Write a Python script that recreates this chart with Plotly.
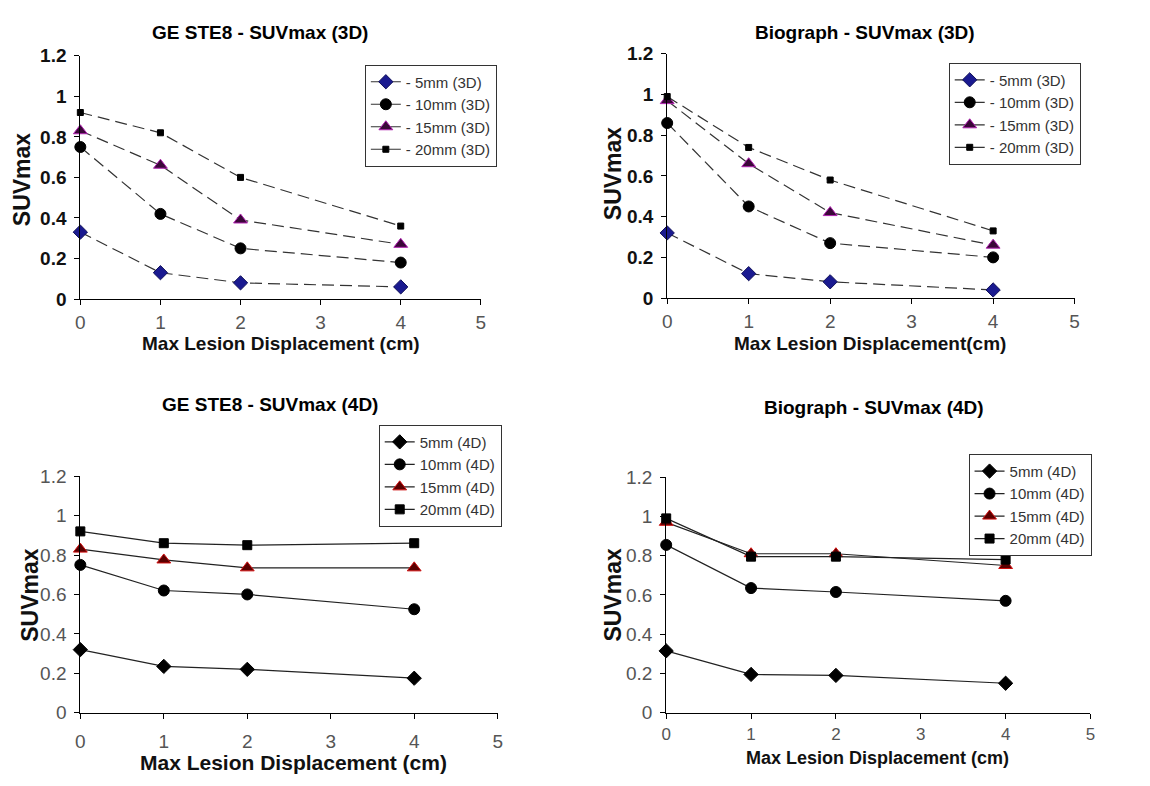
import plotly.graph_objects as go

# ---- data ----
displacement = [0, 1, 2, 4]
sizes = ["5mm", "10mm", "15mm", "20mm"]

ge_3d_5 = [0.33, 0.13, 0.08, 0.06]
ge_3d_10 = [0.75, 0.42, 0.25, 0.18]
ge_3d_15 = [0.83, 0.66, 0.39, 0.27]
ge_3d_20 = [0.92, 0.82, 0.60, 0.36]

bio_3d_5 = [0.32, 0.12, 0.08, 0.04]
bio_3d_10 = [0.86, 0.45, 0.27, 0.20]
bio_3d_15 = [0.97, 0.66, 0.42, 0.26]
bio_3d_20 = [0.99, 0.74, 0.58, 0.33]

ge_4d_5 = [0.32, 0.235, 0.22, 0.175]
ge_4d_10 = [0.75, 0.62, 0.60, 0.525]
ge_4d_15 = [0.83, 0.775, 0.735, 0.735]
ge_4d_20 = [0.92, 0.86, 0.85, 0.86]

bio_4d_5 = [0.315, 0.195, 0.19, 0.15]
bio_4d_10 = [0.855, 0.635, 0.615, 0.57]
bio_4d_15 = [0.97, 0.81, 0.81, 0.75]
bio_4d_20 = [0.99, 0.795, 0.795, 0.78]

titles = ["GE STE8 - SUVmax (3D)", "Biograph - SUVmax (3D)",
          "GE STE8 - SUVmax (4D)", "Biograph - SUVmax (4D)"]
xtitles = ["Max Lesion Displacement (cm)", "Max Lesion Displacement(cm)",
           "Max Lesion Displacement (cm)", "Max Lesion Displacement (cm)"]
ytitle = "SUVmax"
x_ticks = [0, 1, 2, 3, 4, 5]
y_ticks = [0, 0.2, 0.4, 0.6, 0.8, 1, 1.2]
y_ticklabels = ["0", "0.2", "0.4", "0.6", "0.8", "1", "1.2"]

FONT = "Liberation Sans, Arial, sans-serif"
W, H = 1150, 786

def px(x):
    return x / W

def py(y):
    return 1 - y / H

fig = go.Figure()

# marker styles
style_3d = [
    dict(symbol="diamond", size=11, color="#1a1a90", line=dict(color="#10105a", width=1)),
    dict(symbol="circle", size=11, color="black", line=dict(color="black", width=1)),
    dict(symbol="triangle-up", size=12, color="#3a0838", line=dict(color="#b020b0", width=1)),
    dict(symbol="square", size=6, color="black", line=dict(color="black", width=1)),
]
style_4d = [
    dict(symbol="diamond", size=11, color="black", line=dict(color="black", width=1)),
    dict(symbol="circle", size=11, color="black", line=dict(color="black", width=1)),
    dict(symbol="triangle-up", size=12, color="#5a0000", line=dict(color="#d01010", width=1)),
    dict(symbol="square", size=9, color="black", line=dict(color="black", width=1)),
]

panels = [
    ([ge_3d_5, ge_3d_10, ge_3d_15, ge_3d_20], "3D", style_3d),
    ([bio_3d_5, bio_3d_10, bio_3d_15, bio_3d_20], "3D", style_3d),
    ([ge_4d_5, ge_4d_10, ge_4d_15, ge_4d_20], "4D", style_4d),
    ([bio_4d_5, bio_4d_10, bio_4d_15, bio_4d_20], "4D", style_4d),
]

for i, (series, mode, styles) in enumerate(panels):
    ax = "" if i == 0 else str(i + 1)
    leg = "legend" if i == 0 else f"legend{i + 1}"
    for s, vals, st in zip(sizes, series, styles):
        if mode == "3D":
            line = dict(color="#333333", width=1.2, dash="12px,6px")
            name = f"- {s} (3D)"
        else:
            line = dict(color="#222222", width=1.2)
            name = f"{s} (4D)"
        fig.add_trace(go.Scatter(
            x=displacement, y=vals, mode="lines+markers", name=name,
            line=line, marker=st, xaxis="x" + ax, yaxis="y" + ax,
            legend=leg, cliponaxis=False,
        ))

# domains (pixel-measured)
xdoms = [(76, 480), (668, 1079), (76, 497), (667, 1095)]
ydoms = [(47, 297), (45, 296), (479, 722), (480, 722)]
x_standoff = [1, 1, 6, 1]
x_tick_size = [19, 19, 19, 17]

layout = dict(
    width=W, height=H, margin=dict(l=0, r=0, t=0, b=0),
    paper_bgcolor="white", plot_bgcolor="white",
    font=dict(family=FONT, color="black"),
    showlegend=True,
)

for i in range(4):
    ax = "" if i == 0 else str(i + 1)
    top = i < 2
    ytf = dict(family=FONT, size=19, color="#111111", weight="bold") if top else \
        dict(family=FONT, size=19, color="#555555")
    layout["xaxis" + ax] = dict(
        domain=[px(xdoms[i][0]), px(xdoms[i][1])], range=[0, 5],
        anchor="y" + ax, tickvals=x_ticks, ticks="outside", ticklen=5,
        tickcolor="black", showline=True, linecolor="black", linewidth=1,
        showgrid=False, zeroline=False,
        ticklabelstandoff=x_standoff[i],
        tickfont=dict(family=FONT, size=x_tick_size[i], color="#555555"),
    )
    layout["yaxis" + ax] = dict(
        domain=[py(ydoms[i][1]), py(ydoms[i][0])], range=[0, 1.2],
        anchor="x" + ax, tickvals=y_ticks, ticktext=y_ticklabels,
        ticks="outside", ticklen=5, tickcolor="black", showline=True,
        linecolor="black", linewidth=1, showgrid=False, zeroline=False,
        ticklabelstandoff=4,
        tickfont=ytf,
    )

legend_pos = [(363, 56), (952, 54), (377, 426), (972, 456)]
for i, (lx, ly) in enumerate(legend_pos):
    key = "legend" if i == 0 else f"legend{i + 1}"
    layout[key] = dict(
        x=px(lx), y=py(ly), xanchor="left", yanchor="top",
        bordercolor="#333333", borderwidth=1, bgcolor="white",
        font=dict(family=FONT, size=15, color="#333333"),
        itemwidth=30, tracegroupgap=0,
    )

fig.update_layout(**layout)

ann = []
title_pos = [(257, 23), (868, 23), (267, 405), (877, 408)]
for t, (tx, ty) in zip(titles, title_pos):
    ann.append(dict(text=f"<b>{t}</b>", x=px(tx), y=py(ty), xref="paper", yref="paper",
                    showarrow=False, xanchor="center", yanchor="middle",
                    font=dict(family=FONT, size=19, color="black")))
xt_pos = [(278, 343, 19), (873, 343, 19), (291, 773, 21), (880, 769, 18)]
for t, (tx, ty, fs) in zip(xtitles, xt_pos):
    ann.append(dict(text=f"<b>{t}</b>", x=px(tx), y=py(ty), xref="paper", yref="paper",
                    showarrow=False, xanchor="center", yanchor="middle",
                    font=dict(family=FONT, size=fs, color="#111111")))
yt_pos = [(18, 174), (613, 168), (25, 601), (613, 601)]
for (tx, ty) in yt_pos:
    ann.append(dict(text=f"<b>{ytitle}</b>", x=px(tx), y=py(ty), xref="paper", yref="paper",
                    showarrow=False, xanchor="center", yanchor="middle", textangle=-90,
                    font=dict(family=FONT, size=23, color="#111111")))
fig.update_layout(annotations=ann)

fig.write_html("out.html")
